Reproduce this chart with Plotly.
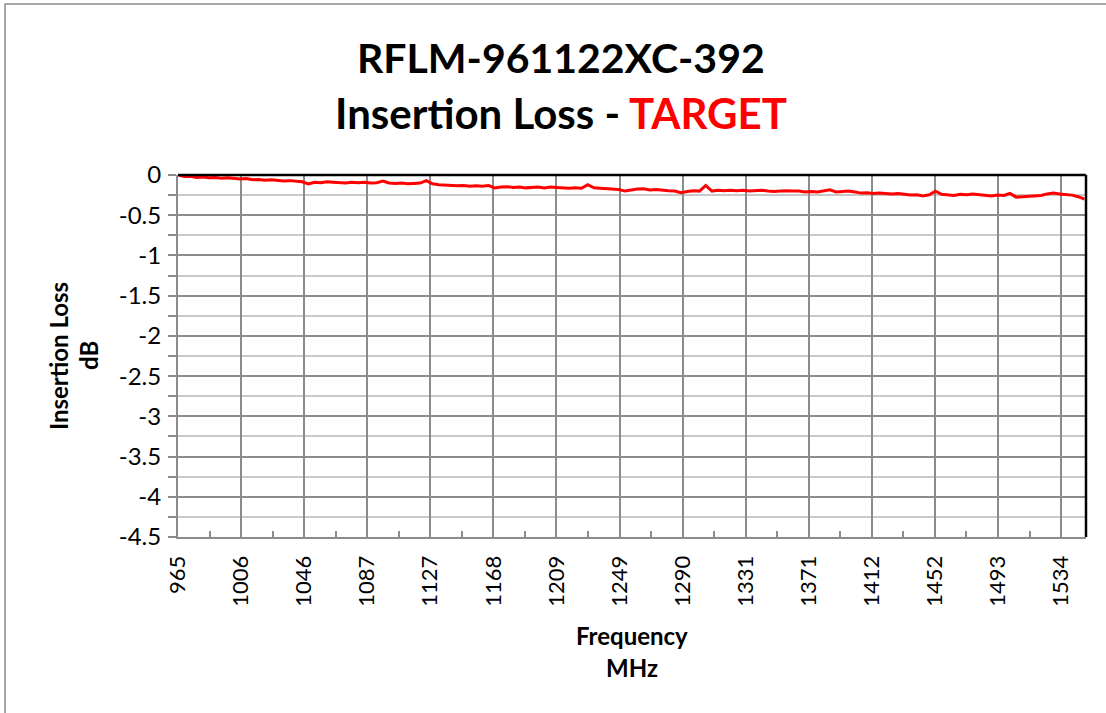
import numpy as np
import plotly.graph_objects as go

# ---- data ----
freq_start = 965.0
freq_step = 4.0
insertion_loss_db = [
    -0.000, -0.020, -0.015, -0.030, -0.025, -0.035, -0.030, -0.040, -0.035, -0.045,
    -0.050, -0.045, -0.060, -0.055, -0.065, -0.060, -0.070, -0.075, -0.070, -0.080,
    -0.085, -0.110, -0.090, -0.095, -0.085, -0.090, -0.095, -0.100, -0.090, -0.095,
    -0.090, -0.100, -0.095, -0.075, -0.100, -0.105, -0.100, -0.110, -0.105, -0.100,
    -0.070, -0.110, -0.120, -0.125, -0.130, -0.135, -0.130, -0.140, -0.135, -0.140,
    -0.130, -0.160, -0.150, -0.145, -0.155, -0.150, -0.160, -0.155, -0.150, -0.160,
    -0.150, -0.155, -0.160, -0.165, -0.160, -0.165, -0.120, -0.160, -0.165, -0.170,
    -0.175, -0.180, -0.200, -0.185, -0.175, -0.170, -0.185, -0.180, -0.190, -0.195,
    -0.200, -0.220, -0.205, -0.195, -0.200, -0.130, -0.200, -0.190, -0.195, -0.190,
    -0.195, -0.190, -0.200, -0.195, -0.190, -0.200, -0.205, -0.200, -0.195, -0.200,
    -0.200, -0.210, -0.205, -0.210, -0.200, -0.185, -0.210, -0.205, -0.200, -0.210,
    -0.225, -0.220, -0.230, -0.225, -0.230, -0.235, -0.230, -0.240, -0.250, -0.245,
    -0.260, -0.245, -0.200, -0.240, -0.250, -0.255, -0.240, -0.245, -0.235, -0.245,
    -0.250, -0.260, -0.250, -0.255, -0.230, -0.275, -0.270, -0.265, -0.260, -0.255,
    -0.235, -0.225, -0.235, -0.240, -0.250, -0.270, -0.300,
]
freq_mhz = freq_start + freq_step * np.arange(len(insertion_loss_db))

x_tick_labels = ["965", "1006", "1046", "1087", "1127", "1168", "1209", "1249",
                 "1290", "1331", "1371", "1412", "1452", "1493", "1534"]
x_tick_spacing = 40.64
x_range = [965, 1550]
y_range = [-4.5, 0]
y_tick_values = [0, -0.5, -1, -1.5, -2, -2.5, -3, -3.5, -4, -4.5]
y_tick_labels = ["0", "-0.5", "-1", "-1.5", "-2", "-2.5", "-3", "-3.5", "-4", "-4.5"]

x_tick_vals = [965 + i * x_tick_spacing for i in range(len(x_tick_labels))]

FONT = "Lato"
GRID_DARK = "#8c8c8c"
GRID_LIGHT = "#c8c8c8"

fig = go.Figure()
fig.add_trace(go.Scatter(
    x=freq_mhz, y=insertion_loss_db, mode="lines",
    line=dict(color="#ff0000", width=3), showlegend=False,
))

W, H = 1106, 713
L, R, T, B = 178, 1086, 175, 537

def px(xp):
    return (xp - L) / (R - L)

def py(yp):
    return (B - yp) / (B - T)

fig.update_layout(
    width=W, height=H,
    margin=dict(l=L, r=W - R, t=T, b=H - B, autoexpand=False),
    paper_bgcolor="white", plot_bgcolor="white",
    font=dict(family=FONT, color="black"),
    xaxis=dict(
        range=x_range, tickmode="array", tickvals=x_tick_vals, ticktext=x_tick_labels,
        tickangle=-90, tickfont=dict(size=22, family=FONT),
        ticks="", showgrid=True, gridcolor=GRID_DARK, gridwidth=1.5,
        showline=True, linecolor=GRID_DARK, linewidth=2, zeroline=False,
        minor=dict(tickmode="linear", tick0=965 + x_tick_spacing / 2, dtick=x_tick_spacing,
                   ticks="inside", ticklen=6, tickcolor=GRID_DARK, tickwidth=1.5,
                   showgrid=False),
        ticklabelstandoff=8,
    ),
    yaxis=dict(
        range=y_range, tickmode="array", tickvals=y_tick_values, ticktext=y_tick_labels,
        tickfont=dict(size=24, family=FONT),
        ticks="outside", ticklen=8, tickcolor=GRID_DARK, tickwidth=1.5,
        showgrid=True, gridcolor=GRID_DARK, gridwidth=1.5,
        showline=True, linecolor=GRID_DARK, linewidth=2, zeroline=False,
        minor=dict(tickmode="linear", tick0=-0.25, dtick=0.5, ticks="outside",
                   ticklen=8, tickcolor=GRID_DARK, tickwidth=1.5,
                   showgrid=True, gridcolor=GRID_LIGHT, gridwidth=1.5),
        ticklabelstandoff=2,
    ),
    shapes=[
        dict(type="line", xref="paper", yref="paper", x0=0, x1=1, y0=1, y1=1,
             line=dict(color="black", width=2.5), layer="above"),
        dict(type="line", xref="paper", yref="paper", x0=1, x1=1, y0=0, y1=1,
             line=dict(color="black", width=2.5), layer="above"),
        dict(type="rect", xref="paper", yref="paper",
             x0=px(5), x1=px(1125), y0=py(730), y1=py(4),
             line=dict(color="#8c8c8c", width=1.5), layer="below"),
    ],
    annotations=[
        dict(text="<b>RFLM-961122XC-392</b>", x=px(561), y=py(57), xref="paper", yref="paper",
             showarrow=False, xanchor="center", yanchor="middle",
             font=dict(size=41, family=FONT, color="black")),
        dict(text="<b>Insertion Loss - <span style='color:#ff0000'>TARGET</span></b>",
             x=px(561), y=py(113), xref="paper", yref="paper",
             showarrow=False, xanchor="center", yanchor="middle",
             font=dict(size=42, family=FONT, color="black")),
        dict(text="<b>Insertion Loss</b>", x=px(58), y=py(356), xref="paper", yref="paper",
             showarrow=False, xanchor="center", yanchor="middle", textangle=-90,
             font=dict(size=24, family=FONT, color="black")),
        dict(text="<b>dB</b>", x=px(88), y=py(356), xref="paper", yref="paper",
             showarrow=False, xanchor="center", yanchor="middle", textangle=-90,
             font=dict(size=24, family=FONT, color="black")),
        dict(text="<b>Frequency</b>", x=px(632), y=py(635), xref="paper", yref="paper",
             showarrow=False, xanchor="center", yanchor="middle",
             font=dict(size=24, family=FONT, color="black")),
        dict(text="<b>MHz</b>", x=px(632), y=py(667), xref="paper", yref="paper",
             showarrow=False, xanchor="center", yanchor="middle",
             font=dict(size=24, family=FONT, color="black")),
    ],
)

fig.write_html(
    "out.html",
    config={"displayModeBar": False},
    post_script="document.body.style.margin='0px';document.body.style.overflow='hidden';",
)
